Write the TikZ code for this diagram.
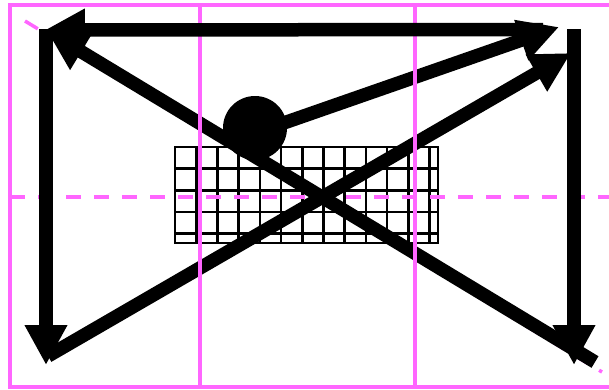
\documentclass[tikz,border=0pt]{standalone}
\usepackage{tikz}
\usetikzlibrary{arrows.meta}
\definecolor{cM}{RGB}{255,102,255}

\begin{document}
\begin{tikzpicture}[x=1pt, y=-1pt, >={Triangle[length=40pt, width=40pt]},
    guide/.style={cM, line width=3.5pt},
    dashguide/.style={guide, dash pattern=on 15pt off 13pt},
    fat/.style={line width=13.5pt},
    cell/.style={line width=2.6pt}]
    \useasboundingbox (0,0) rectangle (609,389);

    % --- Grid block ---
    \foreach \i in {0,...,12}
        \draw[cell] ({175+21.2*\i}, 147) -- ({175+21.2*\i}, 243);
    \foreach \j in {0,...,4}
        \draw[cell] (175, {147+21.6*\j}) -- (438, {147+21.6*\j});
    \draw[cell] (175, 147) rectangle (438, 243);

    % --- Dashed guides ---
    \draw[dashguide] (10, 197) -- (609, 197);
    \draw[dashguide] (25, 21) -- (602, 372);

    % --- Corner points ---
    \coordinate (tl) at (45, 30);
    \coordinate (tlb) at (46, 29);
    \coordinate (tle) at (47, 31);
    \coordinate (bl) at (46, 365);
    \coordinate (bls) at (48, 356);
    \coordinate (tr) at (543, 29.5);
    \coordinate (trc) at (571, 53);
    \coordinate (trf) at (559, 27);
    \coordinate (trd) at (574, 29);
    \coordinate (br) at (574, 365);
    \coordinate (brs) at (595, 362);
    \coordinate (ray) at (255, 133);

    % --- Diagonals and ball ---
    \draw[fat, ->] (brs) -- (tle);
    \draw[fat, ->] (bls) -- (trc);
    \draw[fat, ->] (ray) -- (trf);
    \node[circle, fill=black, minimum size=64pt, inner sep=0pt] (dot) at (255, 128) {};

    % --- Frame and columns ---
    \draw[guide] (609, 5) -- (10, 5) -- (10, 387) -- (609, 387);
    \draw[guide] (200, 5) -- (200, 387);
    \draw[guide] (415, 5) -- (415, 387);

    % --- Edge arrows ---
    \draw[fat, ->] (tr) -- (tl);
    \draw[fat, ->] (tlb) -- (bl);
    \draw[fat, ->] (trd) -- (br);

\end{tikzpicture}
\end{document}
